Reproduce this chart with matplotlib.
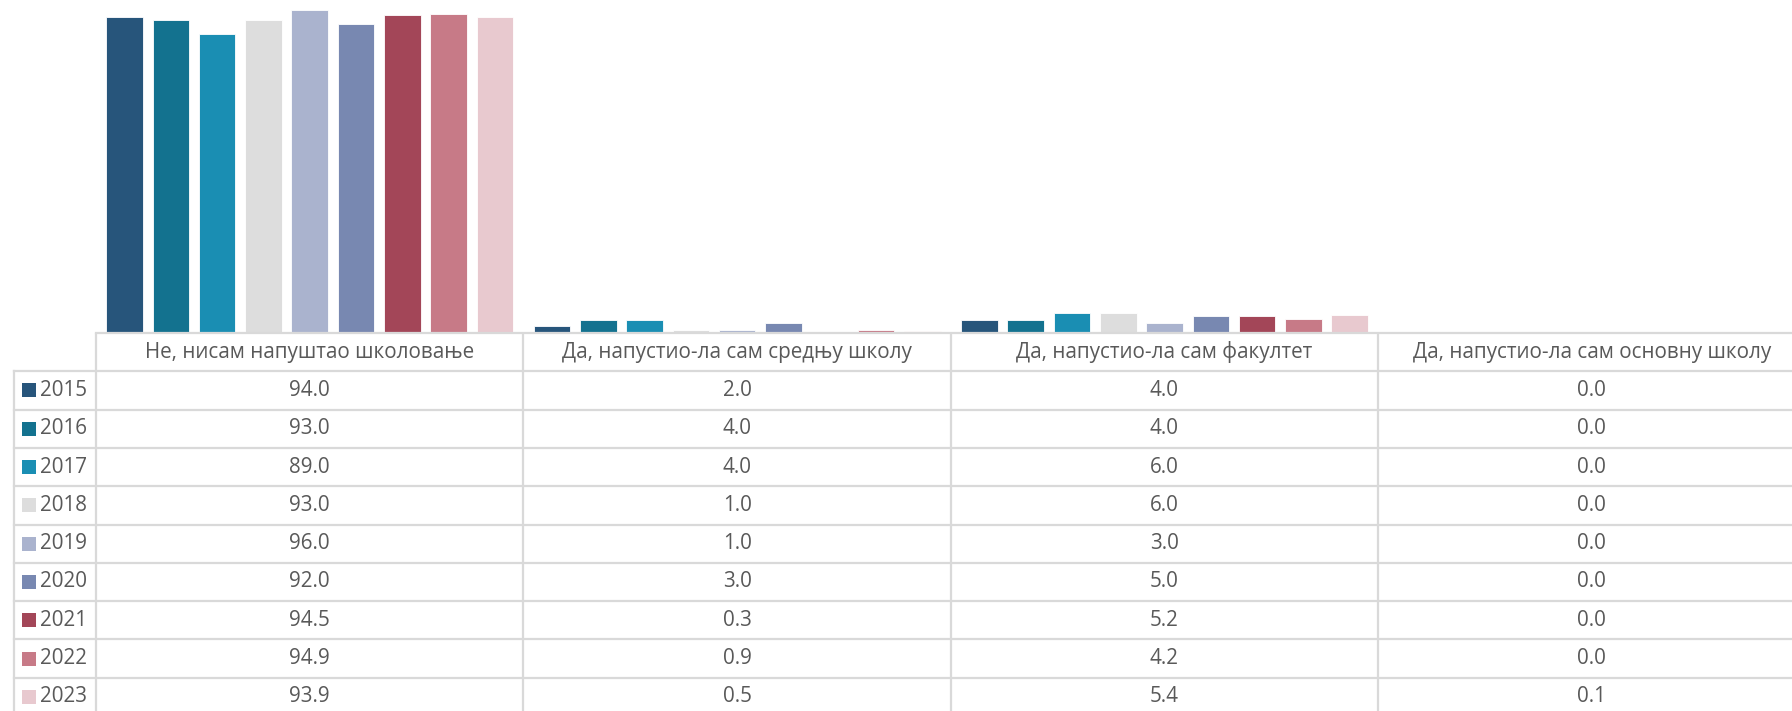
import matplotlib
matplotlib.use("Agg")
import matplotlib.pyplot as plt
from matplotlib.patches import Rectangle
import numpy as np

plt.rcParams['font.family'] = ['Open Sans', 'DejaVu Sans']

categories = ["Не, нисам напуштао школовање", "Да, напустио-ла сам средњу школу",
              "Да, напустио-ла сам факултет", "Да, напустио-ла сам основну школу"]
years = ["2015", "2016", "2017", "2018", "2019", "2020", "2021", "2022", "2023"]
v2015 = [94.0, 2.0, 4.0, 0.0]
v2016 = [93.0, 4.0, 4.0, 0.0]
v2017 = [89.0, 4.0, 6.0, 0.0]
v2018 = [93.0, 1.0, 6.0, 0.0]
v2019 = [96.0, 1.0, 3.0, 0.0]
v2020 = [92.0, 3.0, 5.0, 0.0]
v2021 = [94.5, 0.3, 5.2, 0.0]
v2022 = [94.9, 0.9, 4.2, 0.0]
v2023 = [93.9, 0.5, 5.4, 0.1]
series = [v2015, v2016, v2017, v2018, v2019, v2020, v2021, v2022, v2023]
colors = ["#27557b", "#13728f", "#1a8eb3", "#dddddd", "#aab3ce",
          "#7888b1", "#a34658", "#c77a87", "#e8c9cf"]

W, H = 1792, 711
fig = plt.figure(figsize=(W / 100, H / 100), dpi=100)

# layout in pixels
x0 = 96.0          # table / plot left
colw = 427.4       # column width
base = 333.0       # baseline y (from top)
rowh = 38.3
leg_left = 13.7

right = x0 + 4 * colw
ax = fig.add_axes([x0 / W, (H - base) / H, (right - x0) / W, base / H])
ax.set_xlim(-0.5, 3.5)
ax.set_ylim(0, 99.1)
ax.axis('off')

x = np.arange(len(categories))
step = 46.3 / colw
bw = 36.6 / colw
for i, (vals, c) in enumerate(zip(series, colors)):
    ax.bar(x + (i - 4) * step, vals, width=bw, color=c, edgecolor='white',
           linewidth=0.6, clip_on=False)

# table axes
tax = fig.add_axes([0, 0, 1, (H - base) / H])
tax.set_xlim(0, W)
tax.set_ylim(H - base, 0)   # y in pixels downward from baseline
tax.axis('off')

lc = "#d9d9d9"
lw = 1.6
txtc = "#595959"
fs = 14.9
nrows = len(years) + 1
tbot = nrows * rowh

# horizontal lines
tax.plot([x0, W + 20], [0, 0], color=lc, lw=lw, clip_on=False)
for r in range(1, nrows + 1):
    tax.plot([leg_left, W + 20], [r * rowh, r * rowh], color=lc, lw=lw)
# vertical lines
tax.plot([leg_left, leg_left], [rowh, tbot], color=lc, lw=lw)
for ci in range(5):
    xv = x0 + ci * colw
    tax.plot([xv, xv], [0, tbot], color=lc, lw=lw)

# header
for ci, cat in enumerate(categories):
    tax.text(x0 + (ci + 0.5) * colw, 0.5 * rowh, cat, ha='center', va='center',
             color=txtc, fontsize=fs)

# rows
for r, (yr, vals, c) in enumerate(zip(years, series, colors)):
    yc = (r + 1.5) * rowh
    tax.add_patch(Rectangle((22, yc - 7), 14, 14, facecolor=c, edgecolor='none'))
    tax.text(40, yc, yr, ha='left', va='center', color=txtc, fontsize=fs)
    for ci, v in enumerate(vals):
        tax.text(x0 + (ci + 0.5) * colw, yc, f"{v:.1f}", ha='center', va='center',
                 color=txtc, fontsize=fs)

fig.savefig("out.png", dpi=100)
